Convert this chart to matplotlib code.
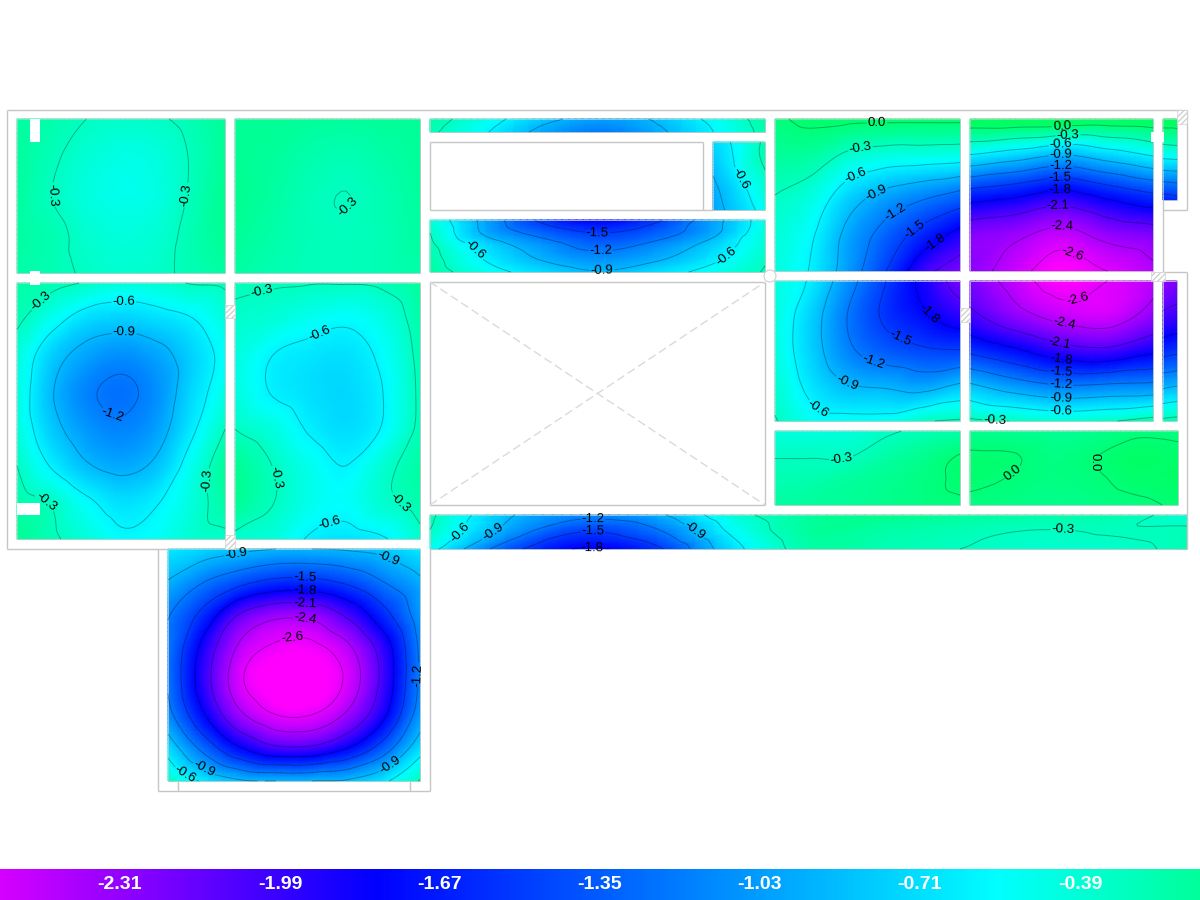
import numpy as np
import matplotlib
matplotlib.use('Agg')
import matplotlib.pyplot as plt
from matplotlib.colors import LinearSegmentedColormap, Normalize
from matplotlib.patches import Rectangle, Circle
from matplotlib.tri import Triangulation, UniformTriRefiner, CubicTriInterpolator

plt.rcParams['font.family'] = ['Liberation Sans', 'DejaVu Sans']
plt.rcParams['hatch.color'] = '#c8c8c8'

# deflection, one small grid per slab (rows top to bottom)
slab_a = [[-.17, -.22, -.30, -.34, -.32, -.25, -.12],
          [-.16, -.27, -.38, -.45, -.42, -.29, -.12],
          [-.16, -.30, -.42, -.47, -.44, -.28, -.10],
          [-.17, -.24, -.36, -.41, -.38, -.25, -.12],
          [-.20, -.25, -.32, -.36, -.34, -.26, -.18]]
slab_b = [[-.12, -.12, -.14, -.15, -.13, -.12],
          [-.12, -.15, -.22, -.25, -.20, -.14],
          [-.10, -.17, -.26, -.303, -.24, -.15],
          [-.13, -.20, -.26, -.28, -.25, -.17],
          [-.18, -.24, -.27, -.27, -.25, -.20]]
slab_c = [[-.20, -.24, -.32, -.40, -.38, -.29, -.26],
          [-.26, -.50, -.72, -.78, -.72, -.62, -.42],
          [-.40, -.78, -1.0, -1.1, -1.0, -.78, -.52],
          [-.42, -.88, -1.15, -1.25, -1.1, -.75, -.45],
          [-.40, -.80, -1.05, -1.15, -1.02, -.66, -.30],
          [-.30, -.62, -.87, -.97, -.85, -.50, -.15],
          [-.20, -.32, -.55, -.70, -.62, -.42, -.20],
          [-.12, -.26, -.40, -.56, -.52, -.38, -.35]]
slab_d = [[-.26, -.28, -.29, -.29, -.26, -.14],
          [-.35, -.40, -.50, -.56, -.45, -.20],
          [-.42, -.60, -.67, -.70, -.55, -.24],
          [-.42, -.61, -.70, -.74, -.60, -.26],
          [-.30, -.42, -.62, -.72, -.58, -.25],
          [-.12, -.30, -.48, -.60, -.38, -.18],
          [-.12, -.29, -.47, -.54, -.36, -.22],
          [-.35, -.42, -.62, -.68, -.62, -.36]]
slab_e = [[-.18, -.48, -.80, -1.0, -.88, -.55, -.18],
          [-.22, -.53, -.90, -1.1, -.93, -.60, -.20],
          [-.25, -.58, -.98, -1.2, -.98, -.63, -.22]]
slab_f = [[-.75, -.60, -.45, -.25],
          [-.85, -.65, -.42, -.28],
          [-.95, -.78, -.58, -.38],
          [-1.0, -.85, -.68, -.50]]
slab_g = [[-.38, -1.0, -1.55, -1.8, -1.57, -1.05, -.45],
          [-.30, -.95, -1.3, -1.5, -1.35, -1.0, -.40],
          [-.24, -.72, -1.05, -1.28, -1.12, -.80, -.38],
          [-.20, -.62, -.92, -1.08, -.95, -.68, -.33],
          [-.16, -.48, -.72, -.88, -.72, -.52, -.28]]
slab_h = [[-.04, .05, .05, .05, .05, .05],
          [-.15, -.18, -.37, -.45, -.47, -.50],
          [-.30, -.42, -.75, -.98, -1.13, -1.28],
          [-.38, -.57, -.98, -1.30, -1.60, -1.87],
          [-.42, -.63, -1.05, -1.50, -2.0, -2.25]]
slab_i = [[.20, .22, .22, .18, .20],
          [-.66, -.80, -.96, -.80, -.62],
          [-1.64, -1.75, -1.90, -1.72, -1.54],
          [-2.25, -2.33, -2.47, -2.30, -2.22],
          [-2.30, -2.52, -2.72, -2.60, -2.45]]
slab_j = [[.15, .15],
          [-.20, -.18],
          [-.62, -.60],
          [-1.15, -1.12],
          [-1.65, -1.60]]
slab_k = [[-.42, -.65, -1.10, -1.50, -1.87, -2.22],
          [-.42, -.78, -1.22, -1.55, -1.75, -1.95],
          [-.42, -.78, -1.15, -1.35, -1.45, -1.48],
          [-.36, -.68, -.88, -.93, -1.0, -.85],
          [-.28, -.50, -.52, -.50, -.33, -.27]]
slab_l = [[-2.22, -2.50, -2.70, -2.60, -2.45],
          [-2.03, -2.30, -2.48, -2.53, -2.30],
          [-1.55, -1.75, -1.97, -2.03, -1.85],
          [-.85, -1.05, -1.18, -1.15, -1.12],
          [-.25, -.31, -.38, -.32, -.20]]
slab_m = [[-2.30, -2.25],
          [-2.05, -2.0],
          [-1.60, -1.55],
          [-.95, -.90],
          [-.25, -.22]]
slab_n = [[-.42, -.42, -.40, -.33, -.26, -.20],
          [-.31, -.31, -.31, -.20, -.10, .01],
          [-.24, -.22, -.16, -.11, -.05, .03],
          [-.17, -.15, -.13, -.09, -.05, -.03]]
slab_o = [[-.10, -.11, -.12, -.10, -.03, -.04],
          [.02, .01, -.05, -.005, .06, .04],
          [.03, -.01, -.05, -.02, .04, .06],
          [-.04, -.06, -.09, -.07, -.03, .02]]
slab_p = [[-.25, -.85, -1.12, -.95, -.40, -.15, -.10, -.15, -.20, -.22, -.37],
          [-.32, -1.0, -1.5, -1.25, -.55, -.16, -.20, -.26, -.31, -.29, -.26],
          [-.50, -1.35, -1.82, -1.55, -.70, -.20, -.25, -.30, -.36, -.35, -.26]]
slab_q = [[-.65, -.75, -.83, -.90, -.90, -.87, -.80, -.65],
          [-.92, -1.20, -1.42, -1.58, -1.58, -1.45, -1.20, -.95],
          [-1.18, -1.60, -2.13, -2.34, -2.33, -2.05, -1.60, -1.05],
          [-1.22, -1.90, -2.45, -2.64, -2.66, -2.45, -1.95, -1.15],
          [-1.22, -1.97, -2.56, -2.75, -2.75, -2.55, -2.0, -1.15],
          [-1.10, -1.78, -2.35, -2.60, -2.60, -2.35, -1.85, -1.05],
          [-.72, -1.30, -1.78, -2.05, -2.05, -1.80, -1.35, -.72],
          [-.30, -.65, -.86, -.90, -.90, -.86, -.65, -.28]]

contour_levels = [-2.6, -2.4, -2.1, -1.8, -1.5, -1.2, -0.9, -0.6, -0.3, 0.0]
legend_ticks = [-2.31, -1.99, -1.67, -1.35, -1.03, -0.71, -0.39]

# slab outline in pixels: left, right, top, bottom, then the grid and label spots
slabs = [
    (17, 225, 119, 273, slab_a, [(55, 195), (178, 194)]),
    (235, 420, 119, 273, slab_b, [(347, 206)]),
    (17, 225, 283, 539, slab_c, [(44, 305), (124, 308), (124, 338), (110, 423), (49, 497), (203, 480)]),
    (235, 420, 283, 539, slab_d, [(263, 297), (319, 332), (274, 478), (395, 507), (329, 521)]),
    (430, 765, 119, 132, slab_e, []),
    (713, 765, 142, 210, slab_f, [(738, 180)]),
    (430, 765, 220, 272, slab_g, [(472, 253), (597, 235), (601, 252), (602, 268), (727, 257)]),
    (775, 960, 119, 271, slab_h, [(877, 125), (860, 146), (856, 177), (876, 193), (895, 212), (915, 230), (936, 244)]),
    (970, 1153, 119, 271, slab_i, [(1062, 124), (1068, 133), (1061, 146), (1061, 155), (1061, 165),
                                   (1060, 176), (1060, 189), (1058, 203), (1063, 221), (1072, 255)]),
    (1163, 1177, 119, 200, slab_j, []),
    (775, 960, 281, 421, slab_k, [(926, 317), (901, 337), (875, 358), (847, 382), (817, 410)]),
    (970, 1153, 281, 421, slab_l, [(1077, 297), (1064, 326), (1059, 344), (1061, 358), (1061, 373),
                                   (1061, 383), (1061, 396), (1061, 409), (995, 418)]),
    (1163, 1177, 281, 421, slab_m, []),
    (775, 960, 431, 505, slab_n, [(841, 456)]),
    (970, 1178, 431, 505, slab_o, [(1008, 467), (1098, 462)]),
    (430, 1187, 515, 549, slab_p, [(458, 530), (490, 528), (695, 530), (593, 518), (593, 532), (592, 546), (1063, 527)]),
    (168, 420, 549, 781, slab_q, [(238, 562), (387, 562), (305, 578), (305, 591), (305, 604), (305, 619),
                                  (292, 637), (418, 675), (187, 771), (205, 767), (388, 763)]),
]

wall_lines = [
    (7, 110, 1187, 110), (7, 110, 7, 549), (7, 549, 168, 549), (158, 549, 158, 791),
    (158, 791, 430, 791), (430, 549, 430, 791), (178, 781, 178, 791), (410, 781, 410, 791),
    (430, 142, 703, 142), (703, 142, 703, 210), (430, 210, 713, 210), (430, 142, 430, 210),
    (430, 282, 765, 282), (430, 505, 765, 505), (430, 282, 430, 505), (765, 282, 765, 505),
    (1187, 110, 1187, 210), (1163, 210, 1187, 210), (1163, 200, 1163, 272),
    (1163, 272, 1187, 272), (1187, 272, 1187, 549),
]
pillars = [(30, 119, 10, 23), (30, 271, 10, 14), (17, 503, 23, 12), (1151, 132, 13, 10)]
hatched = [(225, 305, 10, 13), (225, 535, 10, 14), (960, 308, 10, 14), (1151, 272, 14, 9), (1177, 110, 10, 14)]

norm = Normalize(-2.7, 0.1)
anchors = [(-2.7, '#ff00ff'), (-1.8, '#0000ff'), (-0.55, '#00ffff'), (0.1, '#00ff5f')]
cmap = LinearSegmentedColormap.from_list('deflection', [(norm(v), c) for v, c in anchors])


def drawSlab(ax, left, right, top, bottom, values, labelSpots):
    z = np.array(values, dtype=float)
    rows, cols = z.shape
    gx, gy = np.meshgrid(np.linspace(left, right, cols), np.linspace(top, bottom, rows))
    tris = []
    for r in range(rows - 1):
        for c in range(cols - 1):
            a = r * cols + c
            tris.append([a, a + 1, a + cols])
            tris.append([a + 1, a + cols + 1, a + cols])
    tri = Triangulation(gx.ravel(), gy.ravel(), tris)
    cubic = CubicTriInterpolator(tri, z.ravel(), kind='geom')
    fine, zfine = UniformTriRefiner(tri).refine_field(z.ravel(), triinterpolator=cubic, subdiv=3)

    ax.tripcolor(fine, zfine, shading='gouraud', cmap=cmap, norm=norm)
    lines = ax.tricontour(fine, zfine, levels=contour_levels, colors='k', linestyles='solid',
                          linewidths=0.7, alpha=0.3)
    if labelSpots:
        labels = ax.clabel(lines, fmt='%.1f', fontsize=9.5, colors='k', manual=labelSpots, inline=True, inline_spacing=1)
        for t in labels:
            t.set_alpha(1)
    ax.add_patch(Rectangle((left, top), right - left, bottom - top, fill=False, ec='#b8c8c4', lw=0.6))


fig = plt.figure(figsize=(12, 9), dpi=100)
ax = fig.add_axes([0, 0, 1, 1])
ax.set_xlim(0, 1200)
ax.set_ylim(900, 0)
ax.axis('off')

for left, right, top, bottom, values, spots in slabs:
    drawSlab(ax, left, right, top, bottom, values, spots)

for x0, y0, x1, y1 in wall_lines:
    ax.plot([x0, x1], [y0, y1], color='#c6c6c6', lw=1.0, solid_capstyle='butt')
ax.plot([430, 765], [505, 282], color='#dadada', lw=1.0, ls=(0, (6, 3)))
ax.plot([430, 765], [282, 505], color='#dadada', lw=1.0, ls=(0, (6, 3)))
ax.add_patch(Circle((770, 276), 6, fc='white', ec='#d0d0d0', lw=0.8))
for x, y, w, h in pillars:
    ax.add_patch(Rectangle((x, y), w, h, fc='white', ec='none', zorder=4))
for x, y, w, h in hatched:
    ax.add_patch(Rectangle((x, y), w, h, fc='white', ec='#d0d0d0', lw=0.5, hatch='//////', zorder=4))

# legend strip runs from -2.55 at the left edge to -0.15 at the right edge
strip = np.linspace(-2.55, -0.15, 600).reshape(1, -1)
legendAx = fig.add_axes([0, 0, 1, 31 / 900])
legendAx.imshow(strip, extent=(-2.55, -0.15, 0, 1), cmap=cmap, norm=norm, aspect='auto')
legendAx.axis('off')
for v in legend_ticks:
    legendAx.text(v, 0.5, f'{v:.2f}', color='white', fontsize=14, fontweight='bold', ha='center', va='center')

fig.savefig('out.png', dpi=100)
